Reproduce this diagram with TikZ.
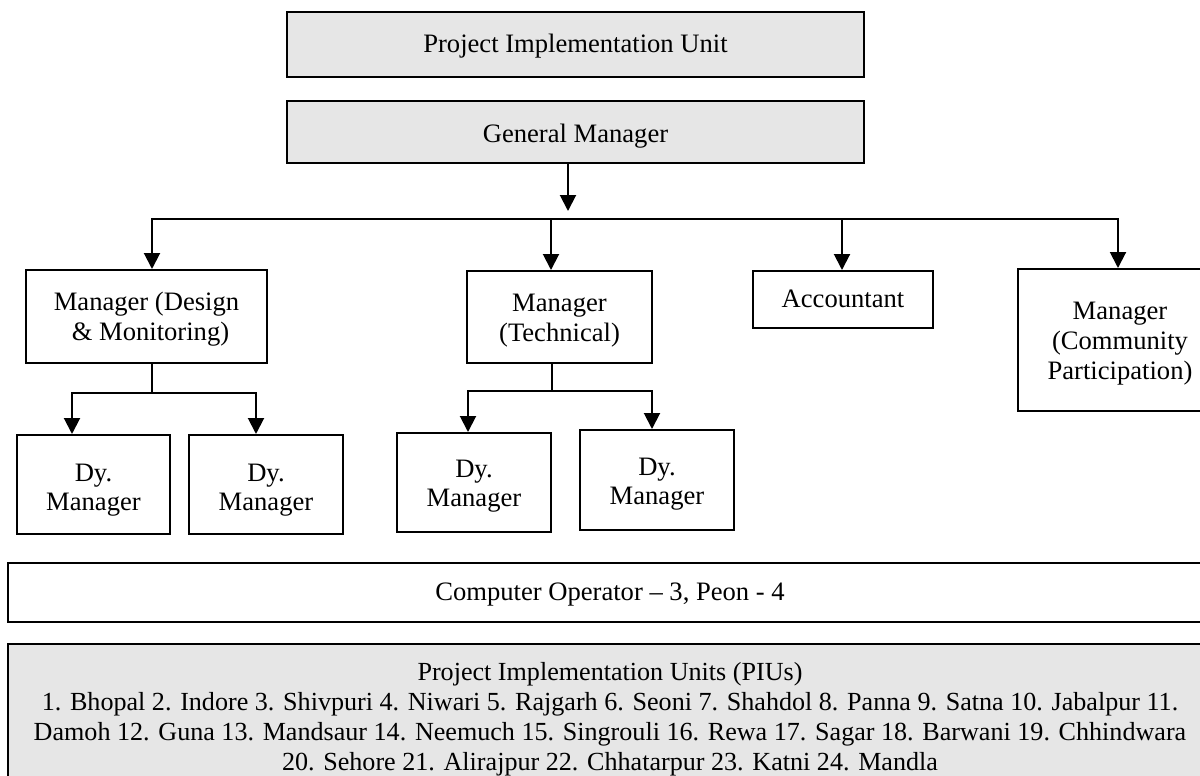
\documentclass[tikz,border=0pt]{standalone}
\usepackage{fontspec}
\setmainfont{Liberation Serif}
\usetikzlibrary{arrows.meta,calc}
\definecolor{boxgray}{HTML}{E6E6E6}
\begin{document}
\begin{tikzpicture}[x=0.5pt,y=-0.5pt,
  every node/.style={font=\fontsize{13.3}{15}\selectfont},
  box/.style={draw, line width=1pt, rectangle, inner sep=0pt, align=center, text depth=0pt},
  graybox/.style={box, fill=boxgray},
  conn/.style={line width=1pt, line cap=rect},
  arr/.style={conn, -{Triangle[width=8pt,length=8pt]}}]
\useasboundingbox (0,0) rectangle (1200,776);
\clip (0,0) rectangle (1200,776);
\fill[white] (0,0) rectangle (1200,776);

% nodes
\node[graybox, minimum width=288.5pt, minimum height=32.5pt, text height=8.5pt] (piu) at (575.5,44.5) {Project Implementation Unit};
\node[graybox, minimum width=288.5pt, minimum height=31pt, text height=10pt] (gm) at (575.5,132) {General Manager};
\node[box, minimum width=120.5pt, minimum height=46.5pt, text height=23.5pt] (mdm) at (146.5,316.5) {Manager (Design\\\hspace*{4pt}\& Monitoring)};
\node[box, minimum width=92.5pt, minimum height=46pt, text height=24pt] (mt) at (559.5,317) {Manager\\(Technical)};
\node[box, minimum width=90pt, minimum height=28.5pt, text height=7.5pt] (acc) at (843,299.5) {Accountant};
\node[box, minimum width=102pt, minimum height=71pt, text height=39pt] (mcp) at (1120,340) {Manager\\(Community\\Participation)};
\node[box, minimum width=76.5pt, minimum height=49.5pt, text height=25.5pt] (dy1) at (93.5,484.5) {Dy.\\[-0.75pt]Manager};
\node[box, minimum width=77pt, minimum height=49.5pt, text height=25.5pt] (dy2) at (266,484.5) {Dy.\\[-0.75pt]Manager};
\node[box, minimum width=77pt, minimum height=49.5pt, text height=23.5pt] (dy3) at (474,482.5) {Dy.\\[-0.75pt]Manager};
\node[box, minimum width=77pt, minimum height=50pt, text height=24pt] (dy4) at (657,480) {Dy.\\[-0.75pt]Manager};
\node[box, minimum width=602pt, minimum height=29.5pt, text height=7.5pt] (co) at (610,592.5) {Computer Operator – 3, Peon - 4};
\node[graybox, minimum width=602pt, minimum height=75pt, text height=51pt, font=\fontsize{13.05}{15}\selectfont] (pius) at (610,719) {Project Implementation Units (PIUs)\\
1. Bhopal 2. Indore 3. Shivpuri 4. Niwari 5. Rajgarh 6. Seoni 7. Shahdol 8. Panna 9. Satna 10. Jabalpur 11.\\
Damoh 12. Guna 13. Mandsaur 14. Neemuch 15. Singrouli 16. Rewa 17. Sagar 18. Barwani 19. Chhindwara\\
20. Sehore 21. Alirajpur 22. Chhatarpur 23. Katni 24. Mandla};

% connectors
\coordinate (gmt) at (568,211);
\draw[arr] (gm.south -| gmt) -- (gmt);
\coordinate (bl) at (152,219);
\coordinate (br) at (1118,219);
\coordinate (d2) at (551,219);
\coordinate (d3) at (842,219);
\draw[arr] (br) -- (bl) -- (bl |- mdm.north);
\draw[arr] (br) -- (br |- mcp.north);
\draw[arr] (d2) -- (d2 |- mt.north);
\draw[arr] (d3) -- (d3 |- acc.north);

\coordinate (m1) at (152,393);
\coordinate (m1l) at (72,393);
\coordinate (m1r) at (256,393);
\draw[conn] (mdm.south -| m1) -- (m1);
\draw[arr] (m1) -- (m1l) -- (m1l |- dy1.north);
\draw[arr] (m1) -- (m1r) -- (m1r |- dy2.north);

\coordinate (m2) at (552,391);
\coordinate (m2l) at (468,391);
\coordinate (m2r) at (652,391);
\draw[conn] (mt.south -| m2) -- (m2);
\draw[arr] (m2) -- (m2l) -- (m2l |- dy3.north);
\draw[arr] (m2) -- (m2r) -- (m2r |- dy4.north);
\end{tikzpicture}
\end{document}
